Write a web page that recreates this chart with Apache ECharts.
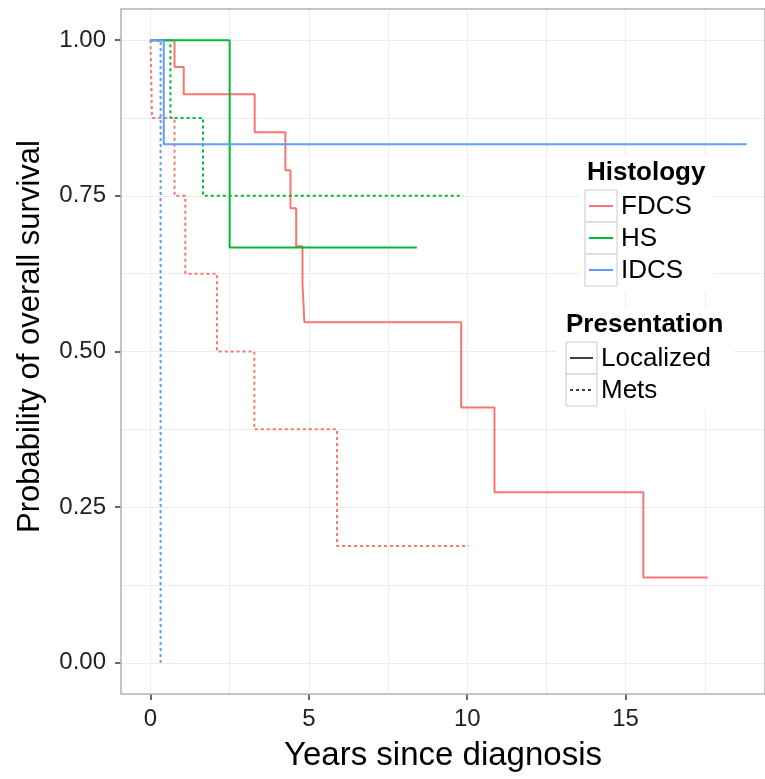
<!DOCTYPE html>
<html>
<head>
<meta charset="utf-8">
<script src="https://cdn.jsdelivr.net/npm/echarts@6/dist/echarts.min.js"></script>
<style>
  html, body { margin: 0; padding: 0; background: #fff; }
  #chart { width: 765px; height: 779px; }
</style>
</head>
<body>
<div id="chart"></div>
<script>
// Kaplan-Meier steps (years, survival)
const fdcsLocTime = [0, 0.76, 1.05, 3.29, 4.26, 4.42, 4.60, 4.80, 4.86, 9.81, 10.86, 15.56, 17.59];
const fdcsLocSurv = [1, 0.957, 0.913, 0.852, 0.791, 0.730, 0.669, 0.608, 0.547, 0.410, 0.274, 0.137, 0.137];
const fdcsMetsTime = [0, 0.05, 0.76, 1.10, 2.10, 3.28, 5.89, 10.04];
const fdcsMetsSurv = [1, 0.875, 0.75, 0.625, 0.5, 0.375, 0.1875, 0.1875];
const hsLocTime = [0, 2.50, 8.41];
const hsLocSurv = [1, 0.667, 0.667];
const hsMetsTime = [0, 0.63, 1.66, 9.87];
const hsMetsSurv = [1, 0.875, 0.75, 0.75];
const idcsLocTime = [0, 0.42, 18.82];
const idcsLocSurv = [1, 0.833, 0.833];
const idcsMetsTime = [0, 0.32];
const idcsMetsSurv = [1, 0];

const histologies = ['FDCS', 'HS', 'IDCS'];
const histColors = ['#F8766D', '#00BA38', '#619CFF'];
const presentations = ['Localized', 'Mets'];

const xTicks = [0, 5, 10, 15];
const xGrid = [0, 2.5, 5, 7.5, 10, 12.5, 15, 17.5];
const yTicks = [0, 0.25, 0.5, 0.75, 1];
const yGrid = [0, 0.125, 0.25, 0.375, 0.5, 0.625, 0.75, 0.875, 1];

const curves = [
  [0, 0, fdcsLocTime, fdcsLocSurv],
  [0, 1, fdcsMetsTime, fdcsMetsSurv],
  [1, 0, hsLocTime, hsLocSurv],
  [1, 1, hsMetsTime, hsMetsSurv],
  [2, 0, idcsLocTime, idcsLocSurv],
  [2, 1, idcsMetsTime, idcsMetsSurv]
];

const dotted = [3, 3];
const font = 'Liberation Sans';

const series = curves.map(([h, p, t, s]) => ({
  name: histologies[h] + ' ' + presentations[p],
  type: 'line',
  step: 'end',
  symbol: 'none',
  silent: true,
  lineStyle: { color: histColors[h], width: 2, type: p === 1 ? dotted : 'solid' },
  data: t.map((v, i) => [v, s[i]])
}));

// legend drawn by hand, ggplot style
const graphic = [];
function legendBlock(bg, title, titleX, titleY, keyX, keyY, keyW, keyH, labels, drawKey) {
  graphic.push({ type: 'rect', z: 100, shape: bg, style: { fill: '#fff' } });
  graphic.push({ type: 'text', z: 101, style: { text: title, x: titleX, y: titleY, font: 'bold 26px ' + font, fill: '#000', verticalAlign: 'middle' } });
  labels.forEach((lab, i) => {
    const y0 = keyY + i * keyH;
    graphic.push({ type: 'rect', z: 101, shape: { x: keyX, y: y0, width: keyW, height: keyH }, style: { fill: '#fff', stroke: '#cccccc', lineWidth: 1 } });
    graphic.push(drawKey(i, keyX, y0 + keyH / 2, keyW));
    graphic.push({ type: 'text', z: 102, style: { text: lab, x: keyX + keyW + 4, y: y0 + keyH / 2 + 1, font: '26px ' + font, fill: '#000', verticalAlign: 'middle' } });
  });
}
legendBlock({ x: 580, y: 156, width: 133, height: 135 }, 'Histology', 587, 173, 585, 190, 32, 32, histologies,
  (i, x, y, w) => ({ type: 'line', z: 102, shape: { x1: x + 4, y1: y, x2: x + w - 4, y2: y }, style: { stroke: histColors[i], lineWidth: 2 } }));
legendBlock({ x: 557, y: 307, width: 177, height: 103 }, 'Presentation', 566, 325, 566, 342, 31, 32, presentations,
  (i, x, y, w) => ({ type: 'line', z: 102, shape: { x1: x + 4, y1: y, x2: x + w - 4, y2: y }, style: { stroke: '#000', lineWidth: 1.5, lineDash: i === 1 ? dotted : null } }));

const chart = echarts.init(document.getElementById('chart'));
chart.setOption({
  animation: false,
  backgroundColor: '#fff',
  grid: { left: 121, right: 0, top: 9, bottom: 85, show: true, borderColor: '#b3b3b3', borderWidth: 1.5, z: 5 },
  xAxis: [
    {
      type: 'value', min: -0.93, max: 19.4,
      name: 'Years since diagnosis', nameLocation: 'middle', nameGap: 45,
      nameTextStyle: { fontFamily: font, fontSize: 33, color: '#000' },
      axisLine: { show: false, onZero: false },
      axisTick: { show: true, length: 6, lineStyle: { color: '#333', width: 1.5 }, customValues: xTicks },
      axisLabel: { customValues: xTicks, margin: 13, fontFamily: font, fontSize: 24, color: '#222' },
      splitLine: { show: false }
    },
    {
      type: 'value', min: -0.93, max: 19.4, position: 'bottom',
      axisLine: { show: false, onZero: false }, axisLabel: { show: false },
      axisTick: { show: false, customValues: xGrid },
      splitLine: { show: true, lineStyle: { color: '#ececec', width: 1 } }
    }
  ],
  yAxis: [
    {
      type: 'value', min: -0.05, max: 1.05,
      name: 'Probability of overall survival', nameLocation: 'middle', nameGap: 75,
      nameTextStyle: { fontFamily: font, fontSize: 31, color: '#000', padding: [0, 0, 0, 30] },
      axisLine: { show: false, onZero: false },
      axisTick: { show: true, length: 6, lineStyle: { color: '#333', width: 1.5 }, customValues: yTicks },
      axisLabel: { customValues: yTicks, margin: 15, fontFamily: font, fontSize: 24, color: '#222', formatter: v => v.toFixed(2) },
      splitLine: { show: false }
    },
    {
      type: 'value', min: -0.05, max: 1.05, position: 'left',
      axisLine: { show: false, onZero: false }, axisLabel: { show: false },
      axisTick: { show: false, customValues: yGrid },
      splitLine: { show: true, lineStyle: { color: '#ececec', width: 1 } }
    }
  ],
  series: series,
  graphic: graphic
});
</script>
</body>
</html>
